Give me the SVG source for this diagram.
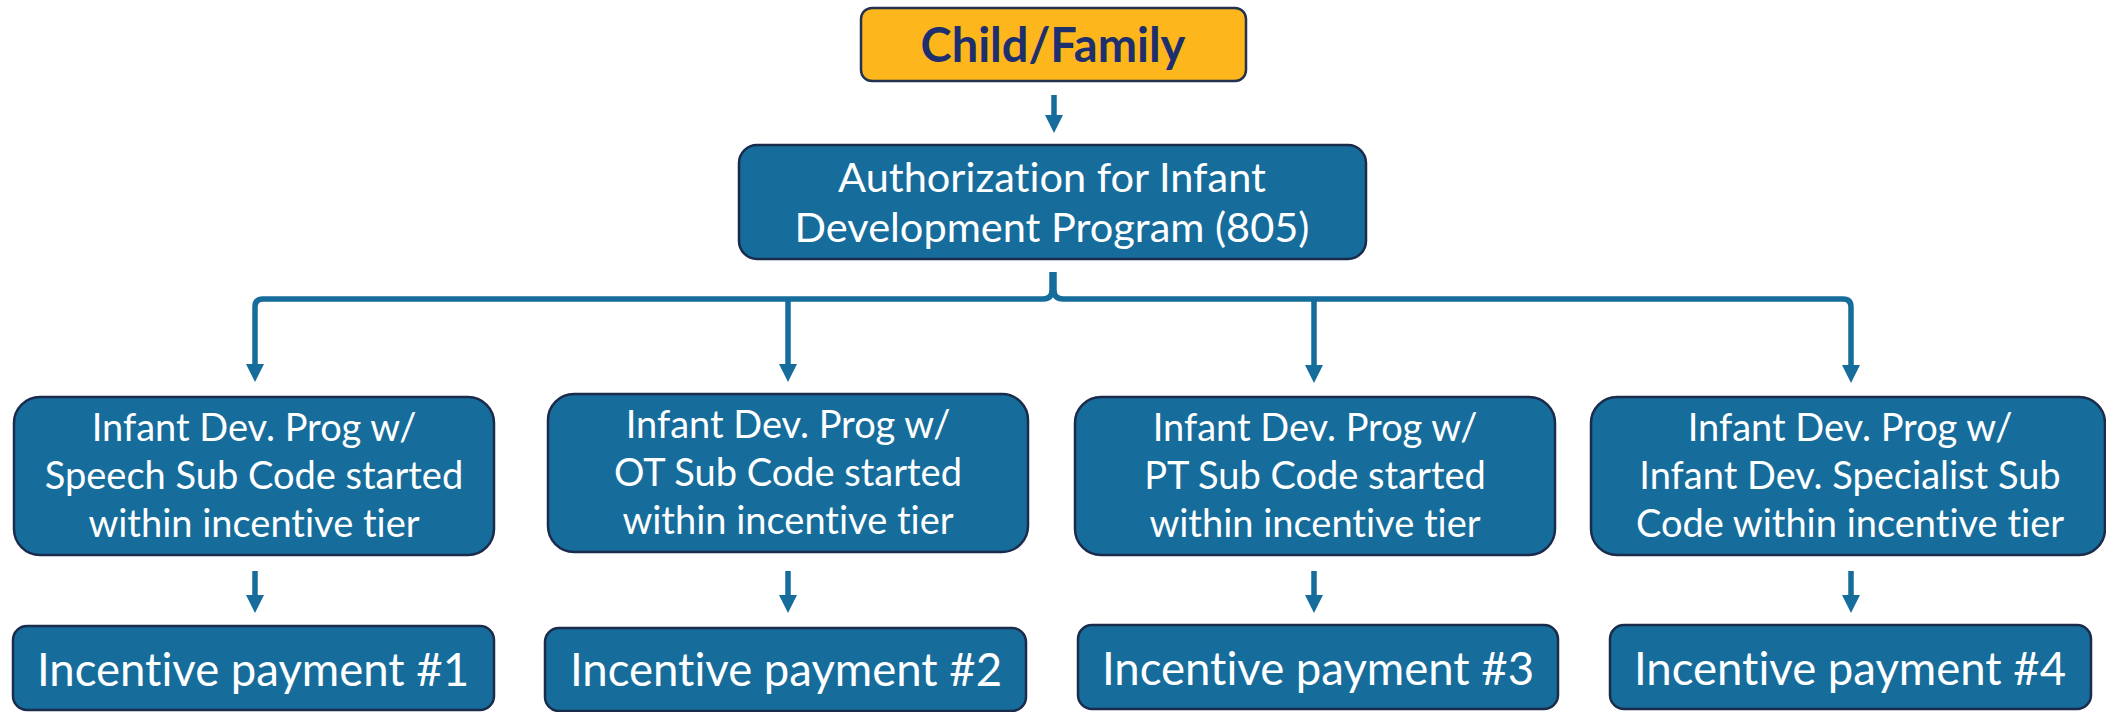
<svg xmlns="http://www.w3.org/2000/svg" width="2106" height="712" viewBox="0 0 2106 712">
<style>
.box{fill:#166d9c;stroke:#1b2b4b;stroke-width:2.5}
.top{fill:#fdb71c;stroke:#24324f;stroke-width:2.5}
.t{font-family:Lato,"Open Sans",sans-serif;fill:#ffffff;text-anchor:middle;font-variant-ligatures:none}
.mid{font-size:38px}
.auth{font-size:41.5px}
.pay{font-size:45.5px}
.cf{font-family:Lato,"Open Sans",sans-serif;font-weight:bold;font-size:47px;fill:#1e2f6e;text-anchor:middle}
.c{fill:none;stroke:#166d9c;stroke-width:5.5;stroke-linejoin:round}
</style>
<defs>
<marker id="ah" markerUnits="userSpaceOnUse" viewBox="0 0 18 18" refX="0" refY="9" markerWidth="18" markerHeight="18" orient="auto">
<path d="M0,0 L18,9 L0,18 Z" fill="#166d9c"/>
</marker>
</defs>
<g id="connectors">
<path class="c" d="M1054 95 V115" marker-end="url(#ah)"/>
<path class="c" d="M1052 272 V290 Q1052 299 1043 299 H263 Q255 299 255 307 V364" marker-end="url(#ah)"/>
<path class="c" d="M1054 272 V290 Q1054 299 1063 299 H1843 Q1851 299 1851 307 V365" marker-end="url(#ah)"/>
<path class="c" d="M788 299 V364" marker-end="url(#ah)"/>
<path class="c" d="M1314 299 V365" marker-end="url(#ah)"/>
<path class="c" d="M255 571 V595" marker-end="url(#ah)"/>
<path class="c" d="M788 571 V595" marker-end="url(#ah)"/>
<path class="c" d="M1314 571 V595" marker-end="url(#ah)"/>
<path class="c" d="M1851 571 V595" marker-end="url(#ah)"/>
</g>
<g id="child-family">
<rect class="top" x="861" y="8" width="385" height="73" rx="11"/>
<text class="cf" x="1053" y="62">Child/Family</text>
</g>
<g id="authorization">
<rect class="box" x="739" y="145" width="627" height="114" rx="18"/>
<text class="t auth" x="1052" y="192">Authorization for Infant</text>
<text class="t auth" x="1052" y="242">Development Program (805)</text>
</g>
<g id="speech">
<rect class="box" x="14" y="397" width="480" height="158" rx="26"/>
<text class="t mid" x="254" y="441">Infant Dev. Prog w/</text>
<text class="t mid" x="254" y="489">Speech Sub Code started</text>
<text class="t mid" x="254" y="537">within incentive tier</text>
</g>
<g id="ot">
<rect class="box" x="548" y="394" width="480" height="158" rx="26"/>
<text class="t mid" x="788" y="438">Infant Dev. Prog w/</text>
<text class="t mid" x="788" y="486">OT Sub Code started</text>
<text class="t mid" x="788" y="534">within incentive tier</text>
</g>
<g id="pt">
<rect class="box" x="1075" y="397" width="480" height="158" rx="26"/>
<text class="t mid" x="1315" y="441">Infant Dev. Prog w/</text>
<text class="t mid" x="1315" y="489">PT Sub Code started</text>
<text class="t mid" x="1315" y="537">within incentive tier</text>
</g>
<g id="ids">
<rect class="box" x="1591" y="397" width="514" height="158" rx="26"/>
<text class="t mid" x="1850" y="441">Infant Dev. Prog w/</text>
<text class="t mid" x="1850" y="489">Infant Dev. Specialist Sub</text>
<text class="t mid" x="1850" y="537">Code within incentive tier</text>
</g>
<g id="pay1">
<rect class="box" x="13" y="626" width="481" height="84" rx="14"/>
<text class="t pay" x="253" y="686">Incentive payment #1</text>
</g>
<g id="pay2">
<rect class="box" x="545" y="628" width="481" height="83" rx="14"/>
<text class="t pay" x="786" y="686">Incentive payment #2</text>
</g>
<g id="pay3">
<rect class="box" x="1078" y="625" width="480" height="84" rx="14"/>
<text class="t pay" x="1318" y="685">Incentive payment #3</text>
</g>
<g id="pay4">
<rect class="box" x="1610" y="625" width="481" height="84" rx="14"/>
<text class="t pay" x="1850" y="685">Incentive payment #4</text>
</g>
</svg>
